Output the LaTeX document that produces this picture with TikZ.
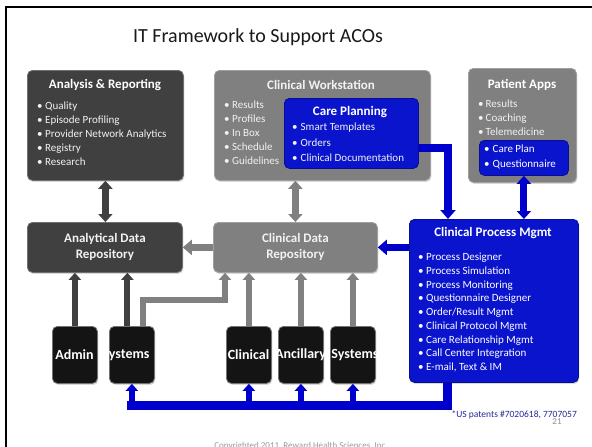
\documentclass[tikz,border=0pt]{standalone}
\usepackage{fontspec}
\setmainfont{Carlito}
\usetikzlibrary{arrows.meta,calc,shadows}
\definecolor{dkbox}{RGB}{64,64,64}
\definecolor{gybox}{RGB}{128,128,128}
\definecolor{bluebox}{RGB}{10,20,205}
\definecolor{bluear}{RGB}{0,0,204}
\definecolor{blkbox}{RGB}{20,20,20}
\definecolor{navytxt}{RGB}{40,40,150}
\definecolor{lighttxt}{RGB}{242,242,242}
\begin{document}
\begin{tikzpicture}[x=1pt,y=-1pt,
  bigtip/.tip={Triangle[width=14pt,length=8pt]},
  midtip/.tip={Triangle[width=15pt,length=9pt]},
  smtip/.tip={Triangle[width=12pt,length=7pt]},
  panel/.style={rounded corners=5pt, inner sep=0pt, anchor=north west, line width=0.8pt,
     drop shadow={opacity=0.3, shadow xshift=1pt, shadow yshift=-1.5pt}},
  darkpanel/.style={panel, fill=dkbox, draw=dkbox!75!white},
  graypanel/.style={panel, fill=gybox, draw=gybox!75!white},
  bluepanel/.style={panel, fill=bluebox, draw=bluebox!70!black},
  blkpanel/.style={panel, fill=blkbox, draw=black!55, minimum width=45pt, minimum height=57pt},
  ttl/.style={font=\fontsize{13}{16}\selectfont\bfseries, text=white, inner sep=0pt},
  repo/.style={font=\fontsize{13}{16}\selectfont\bfseries, text=lighttxt, align=center},
  bul/.style={font=\fontsize{11}{13}\selectfont, text=lighttxt, anchor=west, inner sep=0pt, text height=7pt, text depth=0pt},
  blab/.style={font=\fontsize{14}{16}\selectfont\bfseries, text=white, inner sep=0pt},
  dkdbl/.style={line width=7pt, draw=dkbox, arrows={bigtip-bigtip}},
  gydbl/.style={line width=7pt, draw=gybox, arrows={bigtip-bigtip}},
  bldbl/.style={line width=7pt, draw=bluear, arrows={bigtip-bigtip}},
  gyarr/.style={line width=7pt, draw=gybox, arrows={-midtip}},
  blarr/.style={line width=7pt, draw=bluear, arrows={-midtip}},
  dkup/.style={line width=6pt, draw=dkbox, arrows={-smtip}},
  gyup/.style={line width=6pt, draw=gybox, arrows={-smtip}},
  blup/.style={line width=6.5pt, draw=bluear, arrows={-smtip}},
  busline/.style={line width=9pt, draw=bluear},
  cpline/.style={line width=8pt, draw=bluear, arrows={-midtip}}
]
\useasboundingbox (0,0) rectangle (592,447);
\fill[white] (0,0) rectangle (592,447);
% slide frame
\draw[line width=2pt] (6,470) -- (6,7) -- (620,7);

\node[font=\fontsize{20}{24}\selectfont, text=black!90] (title) at (258,37) {IT Framework to Support ACOs};

% ---- top panels
\node[darkpanel, minimum width=156pt, minimum height=110pt] (ar) at (27,70) {};
\node[ttl] (art) at (105,85) {Analysis \& Reporting};
\foreach \t [count=\i] in {Quality, Episode Profiling, Provider Network Analytics, Registry, Research}
  \node[bul] (ar\i) at (37,{92+14*\i}) {\textbullet\hspace{2.5pt}\t};

\node[graypanel, minimum width=216pt, minimum height=110pt] (cw) at (214,70) {};
\node[ttl, text=lighttxt] (cwt) at (321,85) {Clinical Workstation};
\foreach \t [count=\i] in {Results, Profiles, In Box, Schedule, Guidelines}
  \node[bul] (cw\i) at (224,{91+14*\i}) {\textbullet\hspace{2.5pt}\t};

\node[bluepanel, minimum width=134pt, minimum height=70pt] (cp) at (284,98) {};
\node[ttl] (cpt) at (350,112) {Care Planning};
\node[bul] (cp1) at (292,127) {\textbullet\hspace{3pt}Smart Templates};
\node[bul] (cp2) at (292,143) {\textbullet\hspace{3pt}Orders};
\node[bul] (cp3) at (292,158) {\textbullet\hspace{3pt}Clinical Documentation};

\node[graypanel, minimum width=108pt, minimum height=114pt] (pa) at (468,68) {};
\node[ttl] (pat) at (522,85) {Patient Apps};
\foreach \t [count=\i] in {Results, Coaching, Telemedicine}
  \node[bul] (pa\i) at (478,{90+14*\i}) {\textbullet\hspace{2pt}\t};
\node[bluepanel, minimum width=89pt, minimum height=35pt] (pai) at (479,140) {};
\node[bul, text=white] (pai1) at (484,149) {\textbullet\hspace{3pt}Care Plan};
\node[bul, text=white] (pai2) at (484,164) {\textbullet\hspace{3pt}Questionnaire};

% ---- repositories
\node[darkpanel, repo, minimum width=155pt, minimum height=50pt] (adr) at (27,222) {Analytical Data\\Repository};
\node[graypanel, repo, minimum width=164pt, minimum height=50pt] (cdr) at (213,222) {Clinical Data\\Repository};

\node[bluepanel, minimum width=169pt, minimum height=163pt] (cpm) at (409,219) {};
\node[ttl] (cpmt) at (493,233) {Clinical Process Mgmt};
\foreach \t [count=\i] in {Process Designer, Process Simulation, Process Monitoring, Questionnaire Designer, Order/Result Mgmt, Clinical Protocol Mgmt, Care Relationship Mgmt, Call Center Integration, {E-mail, Text \& IM}}
  \node[bul, text=white] (cpm\i) at (418,{243.25+13.75*\i}) {\textbullet\hspace{2.5pt}\t};

% ---- source systems
\node[blkpanel] (b1) at (52,326) {};
\node[blkpanel] (b2) at (109,326) {};
\node[blkpanel] (b3) at (226,326) {};
\node[blkpanel] (b4) at (278,326) {};
\node[blkpanel] (b5) at (330,326) {};
\node[blab] (l1) at (74.5,355) {Admin};
\node[blab] (l2) at (126,355) {Systems};
\node[blab] (l3) at (248.5,355) {Clinical};
\node[blab] (l4) at (300.5,355) {Ancillary};
\node[blab] (l5) at (355,355) {Systems};

% ---- connectors
\draw[dkdbl] (ar.south) -- (ar.south |- adr.north);
\draw[gydbl] (cdr.north |- cw.south) -- (cdr.north);
\draw[gyarr] (cdr.west) -- (adr.east);
\draw[blarr] (cpm.west |- cdr.east) -- (cdr.east);

\coordinate (cpo) at ($(cp.east)+(0,15)$);
\coordinate (cpi) at ($(cpm.north west)+(39,0)$);
\draw[cpline] (cpo) -| (cpi);
\draw[bldbl] (pai.south) -- (pai.south |- cpm.north);

% from systems to repositories
\draw[dkup] (b1.north) -- (b1.north |- adr.south);
\coordinate (b2a) at ($(b2.north)+(-4.5,0)$);
\draw[dkup] (b2a) -- (b2a |- adr.south);
\coordinate (b2b) at ($(b2.north)+(11.5,0)$);
\coordinate (cdrin) at ($(cdr.south west)+(12,0)$);
\coordinate (jog) at ($(b2b)+(0,-26)$);
\draw[gyup] (b2b) |- (jog) -| (cdrin);
\draw[gyup] (b3.north) -- (b3.north |- cdr.south);
\draw[gyup] (b4.north) -- (b4.north |- cdr.south);
\draw[gyup] (b5.north) -- (b5.north |- cdr.south);

% bus from CPM to systems
\coordinate (cpmout) at ($(cpm.south west)+(38,0)$);
\coordinate (busend) at ($(b2.south)+(-4.5,22)$);
\draw[busline] (cpmout) |- (busend);
\draw[blup] (b2.south |- busend) -- (b2.south);
\draw[blup] (b3.south |- busend) -- (b3.south);
\draw[blup] (b4.south |- busend) -- (b4.south);
\draw[blup] (b5.south |- busend) -- (b5.south);

% ---- footer texts
\node[font=\fontsize{9.5}{11}\selectfont, text=navytxt, anchor=east, inner sep=0pt] (fn) at (577,415) {*US patents \#7020618, 7707057};
\node[font=\fontsize{9}{11}\selectfont, text=black!45, inner sep=0pt] (pg) at (557,422) {21};
\node[font=\fontsize{9}{11}\selectfont, text=black!40, inner sep=0pt] (copy) at (301,446) {Copyrighted 2011, Reward Health Sciences, Inc.};
\end{tikzpicture}
\end{document}
